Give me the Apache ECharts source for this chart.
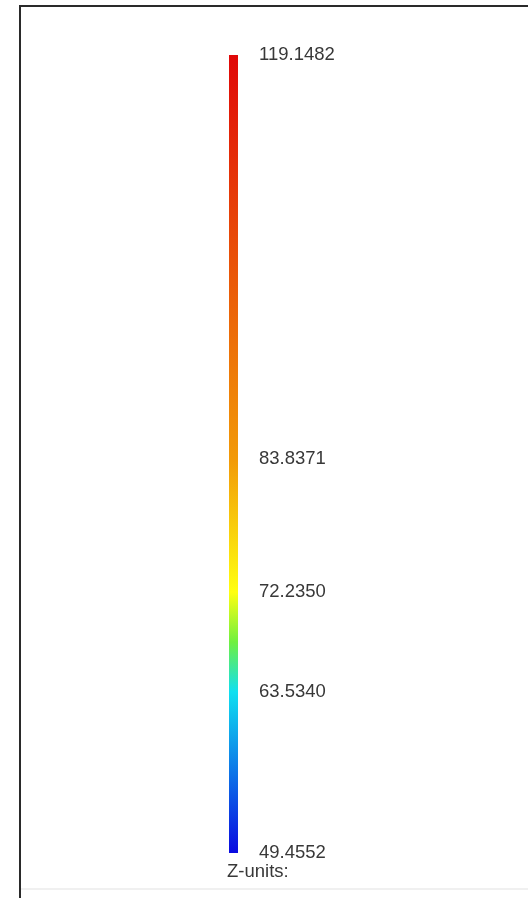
<!DOCTYPE html>
<html>
<head>
<meta charset="utf-8">
<script src="https://cdn.jsdelivr.net/npm/echarts@6/dist/echarts.min.js"></script>
<style>
html,body{margin:0;padding:0;background:#fff;}
#c{width:528px;height:898px;}
</style>
</head>
<body>
<div id="c"></div>
<script>
// colour scale values (Z), bottom to top
const tickValues = [49.4552, 63.5340, 72.2350, 83.8371, 119.1482];
const tickColors = ['#0a0ae0', '#10e0f0', '#ffff10', '#f29a08', '#e00808'];
const categories = ['Z'];
const unitsLabel = 'Z-units:';

const zMin = tickValues[0];
const zMax = tickValues[tickValues.length - 1];

const stops = tickValues.map((v, i) => ({
  offset: (v - zMin) / (zMax - zMin),
  color: tickColors[i]
}));
// green between cyan and yellow (rainbow scale)
stops.splice(2, 0, { offset: (stops[1].offset + stops[2].offset) / 2, color: '#70f040' });

const FONT = 'Liberation Sans, Arial, sans-serif';

const chart = echarts.init(document.getElementById('c'), null, { renderer: 'canvas' });
chart.setOption({
  animation: false,
  backgroundColor: '#ffffff',
  grid: { left: 229, width: 9, top: 55, height: 798, containLabel: false },
  xAxis: {
    type: 'category',
    data: categories,
    show: false
  },
  yAxis: {
    type: 'value',
    position: 'right',
    min: zMin,
    max: zMax,
    axisLine: { show: false },
    axisTick: { show: false },
    splitLine: { show: false },
    axisLabel: {
      customValues: tickValues,
      margin: 21,
      fontFamily: FONT,
      fontSize: 18.5,
      color: '#383838',
      formatter: v => v.toFixed(4)
    }
  },
  series: [{
    type: 'bar',
    data: [zMax],
    barWidth: '100%',
    clip: true,
    itemStyle: {
      color: new echarts.graphic.LinearGradient(0, 1, 0, 0, stops)
    }
  }],
  graphic: [
    { type: 'line', shape: { x1: 20, y1: 6, x2: 528, y2: 6 }, style: { stroke: '#2a2a2a', lineWidth: 2 } },
    { type: 'line', shape: { x1: 20, y1: 5, x2: 20, y2: 898 }, style: { stroke: '#2a2a2a', lineWidth: 2 } },
    { type: 'line', shape: { x1: 21, y1: 889, x2: 528, y2: 889 }, style: { stroke: '#f0f0f0', lineWidth: 2 } },
    { type: 'text', left: 227, top: 862, style: { text: unitsLabel, fontFamily: FONT, fontSize: 18.5, fill: '#383838' } }
  ]
});
</script>
</body>
</html>
